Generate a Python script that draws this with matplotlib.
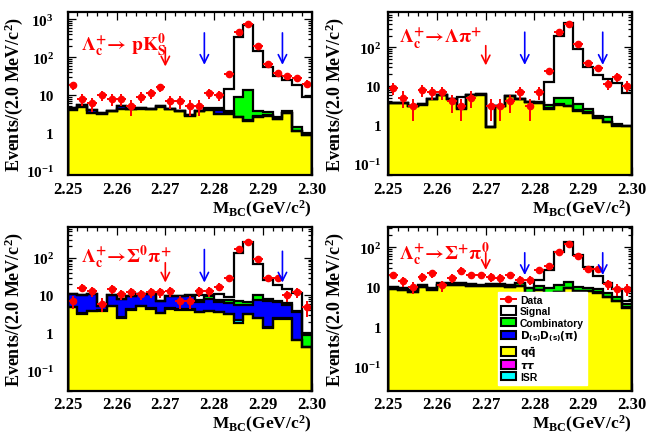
import numpy as np
import matplotlib
matplotlib.use("Agg")
import matplotlib.pyplot as plt
from matplotlib.ticker import MultipleLocator, LogLocator, NullFormatter, FuncFormatter, FormatStrFormatter
from matplotlib.lines import Line2D
from matplotlib.patches import Patch

plt.rcParams['font.family'] = ['Liberation Serif', 'DejaVu Serif']
plt.rcParams['font.weight'] = 'bold'
plt.rcParams['axes.labelweight'] = 'bold'
plt.rcParams['mathtext.fontset'] = 'custom'
plt.rcParams['mathtext.rm'] = 'Liberation Serif:bold'
plt.rcParams['mathtext.it'] = 'Liberation Serif:italic:bold'
plt.rcParams['mathtext.bf'] = 'Liberation Serif:bold'

# M_BC binning: 2.0 MeV bins from 2.25 to 2.30 GeV
mbc_lo, mbc_hi, n_bins = 2.25, 2.30, 25

# --- Lambda_c -> p K_S ---
data_pks = [18, 8, 6, 10, 8, 8, 5, 9, 11, 16, 7, 7, 5, 5, 11, 10, 35, 470, 750, 200, 65, 39, 31, 28, 20]
qq_pks = [4.0, 4.8, 3.3, 3.2, 3.8, 4.2, 4.2, 4.4, 4.2, 4.8, 4.3, 3.8, 2.8, 3.8, 4.0, 3.2, 3.2, 2.6, 2.1, 2.7, 2.8, 2.3, 3.3, 1.15, 0.9]
dd_pks = [0.5, 0.6, 0.8, 0.1, 0.1, 0.8, 0.1, 0.1, 0.1, 0.2, 0.1, 0.1, 0.1, 0.1, 0.2, 0.8, 0.3, 0.1, 0.1, 0.1, 0.1, 0.0, 0.0, 0.0, 0.0]
comb_pks = [0, 0, 0, 0, 0, 0, 0, 0, 0, 0, 0, 0, 0, 0, 0, 0, 0.2, 6.0, 11.5, 1.0, 0.6, 0.4, 0.4, 0.3, 0.1]
isr_pks = [0] * 25
sig_pks = [0, 0, 0, 0, 0, 0, 0, 0, 0, 0, 0, 0, 0, 0, 0.3, 0.6, 11, 340, 715, 145, 52, 30, 22, 17, 8]

# --- Lambda_c -> Lambda pi ---
data_lpi = [9, 5, 3, 8, 7, 7, 4, 3, 5, 0, 3, 3, 4, 7, 3, 7, 24, 245, 400, 122, 39, 29, 11, 17, 10]
qq_lpi = [3.6, 3.6, 3.0, 3.3, 4.6, 5.8, 4.6, 2.6, 5.8, 6.0, 0.85, 3.0, 5.6, 4.6, 3.8, 3.6, 2.6, 3.3, 3.0, 2.3, 2.0, 1.5, 1.15, 0.95, 0.9]
dd_lpi = [0.05, 0.05, 0.05, 0.05, 0.05, 0.05, 0.05, 0.05, 0.05, 0.05, 0.02, 0.05, 0.05, 0.05, 0.05, 0.05, 0.05, 0.05, 0.05, 0.1, 0.15, 0.05, 0.05, 0.02, 0.02]
comb_lpi = [0, 0, 0, 0, 0, 0, 0, 0, 0, 0, 0, 0, 0, 0, 0.1, 0.3, 0.5, 1.4, 1.9, 1.1, 0.45, 0.15, 0.35, 0.05, 0.02]
isr_lpi = [0] * 25
sig_lpi = [0, 0, 0, 0, 0, 0, 0, 2.6, 0, 0, 0, 0, 0, 0, 0, 0, 9.5, 195, 420, 88, 29, 18, 14, 11, 5.6]

# --- Lambda_c -> Sigma0 pi ---
data_s0 = [7, 16, 13, 6, 15, 11, 12, 11, 12, 12, 13, 7, 7, 13, 13, 17, 29, 173, 257, 92, 29, 29, 10, 12, 5]
qq_s0 = [4.8, 3.2, 3.9, 3.9, 5.1, 2.6, 4.2, 5.3, 4.5, 3.4, 4.5, 4.2, 4.2, 3.6, 3.9, 3.6, 3.2, 1.9, 3.2, 2.5, 1.4, 2.4, 2.4, 0.64, 0.43]
isr_s0 = [0.05, 0.3, 0.05, 0.3, 0.05, 0.05, 0.05, 0.05, 0.05, 0.05, 0.05, 0.05, 0.05, 0.05, 0.05, 0.05, 0.05, 0.3, 0.05, 0.05, 0.05, 0.05, 0.05, 0.02, 0.0]
dd_s0 = [6.0, 6.8, 6.9, 1.1, 5.0, 5.4, 5.5, 5.5, 6.3, 3.8, 4.9, 5.2, 5.6, 3.0, 4.1, 2.9, 2.9, 3.3, 2.3, 5.1, 5.5, 4.1, 3.1, 3.0, 0.0]
comb_s0 = [0.1, 0.1, 0.1, 0.1, 0.1, 0.1, 0.1, 0.1, 0.1, 0.1, 0.3, 0.2, 0.4, 1.0, 1.4, 1.1, 1.5, 1.8, 1.2, 2.4, 1.1, 0.8, 0.9, 0.3, 0.47]
sig_s0 = [0, 0, 0, 0, 0, 0, 0, 0, 0, 0, 0, 0, 0, 2.5, 1.0, 3.0, 1.5, 124, 263, 58, 18, 12, 8, 7.8, 0.1]

# --- Lambda_c -> Sigma+ pi0 ---
data_spi = [20, 14, 10, 18, 22, 11, 17, 26, 20, 20, 18, 17, 20, 15, 15, 27, 33, 78, 120, 62, 29, 29, 12, 9, 9]
qq_spi = [8.9, 8.2, 7.6, 10.0, 8.2, 11.0, 11.0, 11.0, 10.5, 10.5, 10.5, 10.5, 10.0, 10.6, 6.9, 8.4, 6.2, 7.3, 9.3, 8.0, 8.0, 7.2, 5.6, 4.4, 3.0]
dd_spi = [0.1, 0.1, 0.1, 0.1, 0.6, 0.1, 0.1, 0.1, 0.1, 0.1, 0.1, 0.1, 0.1, 0.1, 0.1, 0.1, 0.1, 0.1, 0.1, 0.1, 0.1, 0.1, 0.1, 0.05, 0.05]
comb_spi = [1.0, 0.9, 0.5, 1.0, 0.5, 1.2, 1.2, 1.2, 1.0, 0.8, 1.0, 1.0, 1.0, 1.7, 2.3, 2.1, 3.0, 3.9, 4.3, 1.7, 1.2, 1.4, 1.5, 1.0, 0.6]
isr_spi = [0] * 25
sig_spi = [0, 0, 0, 0, 0, 0, 0, 0, 0, 0, 0, 0, 0, 0, 0.3, 4.4, 17, 65, 124, 56, 23, 10, 5.3, 3.3, 0.9]

titles = [r'$\Lambda_{\mathrm{c}}^{+}\!\rightarrow\,\mathbf{pK_{S}^{0}}$',
          r'$\Lambda_{\mathrm{c}}^{+}\!\rightarrow\!\Lambda\mathrm{\pi}^{+}$',
          r'$\Lambda_{\mathrm{c}}^{+}\!\rightarrow\!\Sigma^{0}\mathrm{\pi}^{+}$',
          r'$\Lambda_{\mathrm{c}}^{+}\!\rightarrow\!\Sigma^{+}\mathrm{\pi}^{0}$']

# signal region / sideband arrows
red_arrow_x = 2.270
blue_arrow_x = [2.278, 2.294]

panels = [
    dict(data=data_pks, layers=[qq_pks, isr_pks, dd_pks, comb_pks, sig_pks], ylim=(0.077, 1600),
         rect=[0.1026, 0.5954, 0.3697, 0.3754], tpos=(0.055, 0.80),
         red=(180, 57), blue=[(440, 63), (440, 63)], pad=10),
    dict(data=data_lpi, layers=[qq_lpi, isr_lpi, dd_lpi, comb_lpi, sig_lpi], ylim=(0.050, 830),
         rect=[0.5883, 0.5954, 0.3692, 0.3754], tpos=(0.045, 0.84),
         red=(110, 34), blue=[(245, 35), (245, 35)], pad=5),
    dict(data=data_s0, layers=[qq_s0, isr_s0, dd_s0, comb_s0, sig_s0], ylim=(0.030, 650),
         rect=[0.1026, 0.1000, 0.3697, 0.3754], tpos=(0.055, 0.82),
         red=(74, 22), blue=[(166, 22), (149, 22)], pad=10),
    dict(data=data_spi, layers=[qq_spi, isr_spi, dd_spi, comb_spi, sig_spi], ylim=(0.0245, 323),
         rect=[0.5883, 0.1000, 0.3692, 0.3754], tpos=(0.045, 0.84),
         red=(73, 27), blue=[(73, 20), (73, 20)], pad=5),
]

layer_colors = ['#ffff00', '#00ffff', '#0000ff', '#00ff00', '#ffffff']

edges = np.linspace(mbc_lo, mbc_hi, n_bins + 1)
centers = 0.5 * (edges[1:] + edges[:-1])
half_w = 0.5 * (edges[1] - edges[0])


def fmt_log(v, pos):
    e = int(round(np.log10(v)))
    if e == 0:
        return '1'
    if e == 1:
        return '10'
    return r'$10^{%d}$' % e


fig = plt.figure(figsize=(6.6, 4.35), dpi=100)

for i, p in enumerate(panels):
    ax = fig.add_axes(p['rect'])
    ax.set_yscale('log')

    # stacked MC components
    bottom = np.full(n_bins, 1e-3)
    tops = []
    for vals, col in zip(p['layers'], layer_colors):
        top = bottom + np.array(vals, dtype=float)
        ax.stairs(top, edges, baseline=bottom, fill=True, color=col, zorder=2)
        tops.append(top)
        bottom = top
    for top in tops:
        ax.stairs(top, edges, color='black', lw=1.6, zorder=3)

    # data
    d = np.array(p['data'], dtype=float)
    m = d > 0
    ax.errorbar(centers[m], d[m], xerr=half_w, yerr=np.sqrt(d[m]), fmt='o', color='red',
                ms=4.5, lw=1.4, capsize=0, zorder=5)

    # arrows
    ax.annotate('', xy=(red_arrow_x, p['red'][1]), xytext=(red_arrow_x, p['red'][0]),
                arrowprops=dict(arrowstyle='->,head_length=0.5,head_width=0.25', color='red',
                                lw=1.2, mutation_scale=12, shrinkA=0, shrinkB=0), zorder=6)
    for bx, (ytop, ytip) in zip(blue_arrow_x, p['blue']):
        ax.annotate('', xy=(bx, ytip), xytext=(bx, ytop),
                    arrowprops=dict(arrowstyle='->,head_length=0.5,head_width=0.25', color='blue',
                                    lw=1.2, mutation_scale=12, shrinkA=0, shrinkB=0), zorder=6)

    ax.text(p['tpos'][0], p['tpos'][1], titles[i], transform=ax.transAxes, color='red',
            fontsize=14, math_fontfamily='stix', va='center', ha='left', zorder=7)

    ax.set_xlim(mbc_lo, mbc_hi)
    ax.set_ylim(*p['ylim'])
    ax.xaxis.set_major_locator(MultipleLocator(0.01))
    ax.xaxis.set_minor_locator(MultipleLocator(0.002))
    ax.xaxis.set_major_formatter(FormatStrFormatter('%.2f'))
    ax.yaxis.set_major_locator(LogLocator(base=10, numticks=10))
    ax.yaxis.set_minor_locator(LogLocator(base=10, subs=np.arange(2, 10), numticks=20))
    ax.yaxis.set_major_formatter(FuncFormatter(fmt_log))
    ax.yaxis.set_minor_formatter(NullFormatter())
    ax.tick_params(which='both', direction='in', top=True, right=True, width=0.9)
    ax.tick_params(which='major', length=6)
    ax.tick_params(which='minor', length=3)
    ax.tick_params(axis='x', pad=4, labelsize=12)
    ax.tick_params(axis='y', pad=p['pad'], labelsize=11)
    for s in ax.spines.values():
        s.set_linewidth(1.6)
        s.set_zorder(8)

    ax.set_ylabel(r'Events/(2.0 MeV/c$^{2}$)', fontsize=13)
    ax.yaxis.set_label_coords(-0.175, 0.5)
    ax.set_xlabel(r'M$_{\mathrm{BC}}$(GeV/c$^{2}$)', fontsize=12.5, loc='right')
    ax.xaxis.set_label_coords(1.0, -0.14)

    if i == 3:
        handles = [Line2D([], [], color='red', marker='o', ms=4.5, lw=1.4),
                   Patch(facecolor='white', edgecolor='black', lw=1.5),
                   Patch(facecolor='#00ff00', edgecolor='black', lw=1.5),
                   Patch(facecolor='#0000ff', edgecolor='black', lw=1.5),
                   Patch(facecolor='#ffff00', edgecolor='black', lw=1.5),
                   Patch(facecolor='#ff00ff', edgecolor='black', lw=1.5),
                   Patch(facecolor='#00ffff', edgecolor='black', lw=1.5)]
        labels = ['Data', 'Signal', 'Combinatory', r'$\mathbf{D_{(s)}D_{(s)}(\pi)}$',
                  r'$\mathbf{q\bar{q}}$', r'$\tau\tau$', 'ISR']
        leg = ax.legend(handles, labels, loc='lower left', bbox_to_anchor=(0.45, 0.035),
                        prop={'family': 'Liberation Sans', 'weight': 'bold', 'size': 7.5},
                        frameon=True, fancybox=False, framealpha=1, facecolor='white',
                        edgecolor='white', borderpad=0.3, labelspacing=0.12,
                        handlelength=1.4, handleheight=0.9, handletextpad=0.4, borderaxespad=0)
        leg.set_zorder(9)
        for t in leg.get_texts():
            t.set_math_fontfamily('dejavusans')

fig.savefig('out.png', dpi=100)
